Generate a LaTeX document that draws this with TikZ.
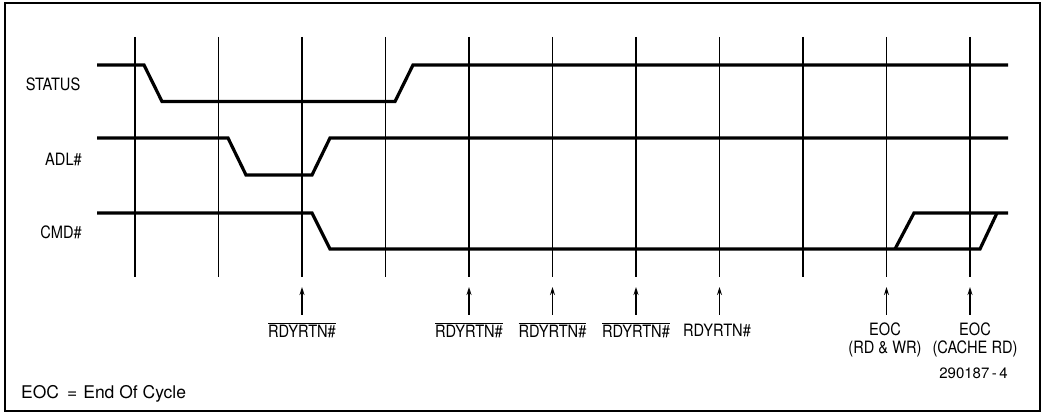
\documentclass[tikz,border=0pt]{standalone}
\usepackage{fontspec}
\setmainfont{TeX Gyre Heros}
\newfontfamily\lblfont[FakeStretch=0.86]{TeX Gyre Heros}
\usetikzlibrary{arrows.meta}
\begin{document}
\begin{tikzpicture}[x=1pt,y=-1pt,
  sig/.style={line width=3.2pt,line join=miter},
  grid/.style={line width=1.1pt},
  frame/.style={line width=1.4pt},
  arr/.style={line width=1.3pt,-{Stealth[length=8pt,width=5pt]}},
  lbl/.style={font=\lblfont\fontsize{17}{18}\selectfont,inner sep=0pt},
  sname/.style={font=\lblfont\fontsize{17}{18}\selectfont,inner sep=0pt,anchor=east}]
\useasboundingbox (0,0) rectangle (1045,414);
\draw[frame] (5,3) rectangle (1040,411);
% grid lines
\foreach \i/\x in {1/135,2/218.5,3/302,4/385.5,5/469,6/552.5,7/636,8/719.5,9/803,10/886.5,11/970}{
  \coordinate (g\i t) at (\x,37);
  \coordinate (g\i b) at (\x,277);
  \draw[grid] (g\i t) -- (g\i b);
}
% signal names
\node[sname] (status) at (80.5,84) {STATUS};
\node[sname] (adl) at (82,159) {ADL\#};
\node[sname] (cmd) at (82,232.5) {CMD\#};
% STATUS
\draw[sig] (97,65) -- (144,65) -- (162,101.5) -- (395,101.5) -- (413,65) -- (1008,65);
% ADL#
\draw[sig] (97,138) -- (228,138) -- (246,175) -- (312,175) -- (330,138) -- (1008,138);
% CMD#
\draw[sig] (97,213) -- (312,213) -- (330,249) -- (980,249) -- (997,213);
\draw[sig] (895,249) -- (914,213) -- (1008,213);
% arrows and labels
\foreach \i/\x in {1/302,2/469,3/552.5,4/636,5/719.5,6/886.5,7/970}{
  \coordinate (a\i b) at (\x,315);
  \coordinate (a\i t) at (\x,287);
  \draw[arr] (a\i b) -- (a\i t);
}
\node[lbl] (l1) at (302,330) {$\overline{\hbox{RDYRTN\#}}$};
\node[lbl] (l2) at (469,330) {$\overline{\hbox{RDYRTN\#}}$};
\node[lbl] (l3) at (552.5,330) {$\overline{\hbox{RDYRTN\#}}$};
\node[lbl] (l4) at (636,330) {$\overline{\hbox{RDYRTN\#}}$};
\node[lbl] (l5) at (717,330) {RDYRTN\#};
\node[lbl,align=center] (l6) at (885,339.5) {EOC\\(RD \& WR)};
\node[lbl,align=center] (l7) at (975,339.5) {EOC\\(CACHE RD)};
\node[lbl,font=\fontsize{15}{16}\selectfont] (fig) at (973.5,373) {290187\,-\,4};
\node[lbl,anchor=west,font=\fontsize{17.5}{19}\selectfont] (eoc) at (21,394) {EOC\hspace{8pt}=\hspace{6pt}End Of Cycle};
\end{tikzpicture}
\end{document}
